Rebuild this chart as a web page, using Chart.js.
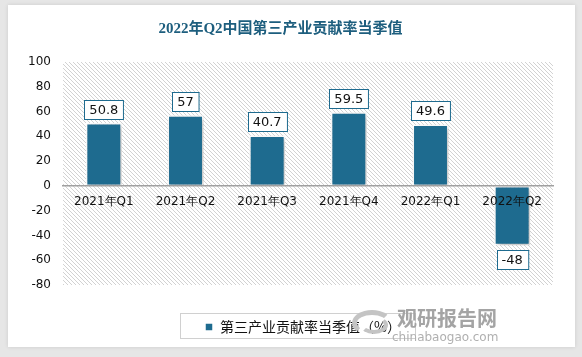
<!DOCTYPE html>
<html><head><meta charset="utf-8">
<script src="https://cdn.jsdelivr.net/npm/chart.js@4/dist/chart.umd.min.js"></script>
<style>
html,body{margin:0;padding:0;background:#e6e6e6;width:582px;height:357px;overflow:hidden}
#card{position:absolute;left:8px;top:5px;width:567px;height:342px;background:#fff;box-shadow:0 0 4px rgba(0,0,0,0.12)}
#c{position:absolute;left:0;top:0;width:567px;height:342px}
#wm{position:absolute;left:340px;top:306px;width:220px;height:40px;pointer-events:none}
#wm .a{position:absolute;left:57px;top:0px;font:bold 20px "Noto Sans CJK SC",sans-serif;color:#a4a4a4;letter-spacing:0px;line-height:24px}
#wm .b{position:absolute;left:52px;top:24px;font:12px "DejaVu Sans",sans-serif;color:#b0b0b0;line-height:14px}
#wm .r1{position:absolute;left:12px;top:4px;width:40px;height:26px;border-radius:50%;border:5px solid transparent;border-top-color:#c4c4c4;border-left-color:#c4c4c4;box-sizing:border-box}
#wm .r2{position:absolute;left:20px;top:10px;width:28px;height:18px;border-radius:50%;border:4px solid transparent;border-bottom-color:#c4c4c4;border-right-color:#c4c4c4;box-sizing:border-box}
</style></head>
<body>
<div id="card"><canvas id="c" width="567" height="342"></canvas></div>
<div id="wm"><div class="r1"></div><div class="r2"></div><span class="a">观研报告网</span><span class="b">chinabaogao.com</span></div>
<script>
const categories = ["2021年Q1","2021年Q2","2021年Q3","2021年Q4","2022年Q1","2022年Q2"];
const values = [50.8, 57, 40.7, 59.5, 49.6, -48];
const seriesName = "第三产业贡献率当季值（%）";
const chartTitle = "2022年Q2中国第三产业贡献率当季值";
const yTicks = [100, 80, 60, 40, 20, 0, -20, -40, -60, -80];

const barColor = "#1e6b8f";

function makePattern(){
  const p = document.createElement('canvas');
  p.width = 4; p.height = 4;
  const g = p.getContext('2d');
  g.fillStyle = '#ffffff'; g.fillRect(0,0,4,4);
  g.fillStyle = '#d2d2d2';
  for (let i = 0; i < 4; i++) g.fillRect(i, i, 1, 1);
  return p;
}

const bgPlugin = {
  id: 'hatch',
  afterLayout(chart){
    const lg = chart.legend;
    if (lg && lg.lineWidths) {
      const pad = lg.options.labels.padding;
      const x = (lg.left + pad + lg.right - lg.lineWidths[0]) / 2;
      const shift = 197 - x;
      lg.left += shift; lg.right += shift;
    }
  },
  beforeDraw(chart){
    const {ctx, chartArea:a} = chart;
    ctx.save();
    ctx.fillStyle = ctx.createPattern(makePattern(), 'repeat');
    ctx.fillRect(a.left, a.top, a.right-a.left, a.bottom-a.top);
    ctx.restore();
  },
  beforeDatasetsDraw(chart){
    const ctx = chart.ctx;
    ctx.save();
    ctx.shadowColor = 'rgba(0,0,0,0.28)';
    ctx.shadowBlur = 5;
    ctx.shadowOffsetX = 2;
    ctx.shadowOffsetY = 2;
  },
  afterDatasetsDraw(chart){
    chart.ctx.restore();
    const ctx = chart.ctx;
    const meta = chart.getDatasetMeta(0);
    ctx.save();
    ctx.font = '13px "DejaVu Sans", sans-serif';
    ctx.textAlign = 'center';
    ctx.textBaseline = 'middle';
    meta.data.forEach((bar, i) => {
      const v = values[i];
      const txt = String(v);
      const w = ctx.measureText(txt).width + 10;
      const h = 19;
      let cy = v >= 0 ? bar.y - 4 - h/2 : bar.y + 5 + h/2;
      const x0 = Math.round(bar.x - w/2) + 0.5, y0 = Math.round(cy - h/2) + 0.5;
      ctx.fillStyle = '#fff';
      ctx.fillRect(x0, y0, w, h);
      ctx.strokeStyle = barColor; ctx.lineWidth = 1;
      ctx.strokeRect(x0, y0, w, h);
      ctx.fillStyle = '#111';
      ctx.fillText(txt, bar.x, y0 + h/2 + 0.5);
    });
    ctx.restore();
  },
  afterDraw(chart){
    const ctx = chart.ctx;
    ctx.save();
    ctx.strokeStyle = '#d0d0d0'; ctx.lineWidth = 1;
    ctx.strokeRect(172.5, 308.5, 235, 25);
    ctx.restore();
  }
};

new Chart(document.getElementById('c'), {
  type: 'bar',
  data: {
    labels: categories,
    datasets: [{
      label: seriesName,
      data: values,
      xAxisID: 'x',
      yAxisID: 'y',
      backgroundColor: barColor,
      borderColor: '#ffffff',
      borderWidth: 1.5,
      borderSkipped: false,
      categoryPercentage: 1,
      barPercentage: 0.44
    }]
  },
  options: {
    responsive: false,
    maintainAspectRatio: false,
    animation: false,
    devicePixelRatio: 1,
    layout: { padding: { left: 0, right: 22, top: 0, bottom: 3 } },
    plugins: {
      title: {
        display: true, text: chartTitle, color: '#1d5e7e',
        font: { size: 15, weight: 'bold', family: '"Liberation Serif", "Noto Sans CJK SC", serif' },
        padding: { top: 15, bottom: 24 }
      },
      legend: {
        position: 'bottom',
        labels: {
          boxWidth: 8, boxHeight: 8, padding: 8, color: '#111',
          font: { size: 14, family: '"Noto Sans CJK SC", sans-serif' }
        }
      },
      tooltip: { enabled: false }
    },
    scales: {
      x: {
        position: { y: 0 },
        grid: { display: false, drawTicks: false },
        border: { display: true, color: '#a0a0a0', width: 1.5, z: 1 },
        ticks: { z: 1, color: '#111', padding: 9, font: { size: 12, family: '"DejaVu Sans", sans-serif' }, maxRotation: 0, autoSkip: false }
      },
      xSpacer: {
        axis: 'x',
        type: 'category',
        position: 'bottom',
        display: true,
        grid: { display: false, drawTicks: false },
        border: { display: false },
        ticks: { display: false },
        afterFit(scale){ scale.height = 27; }
      },
      y: {
        min: -80, max: 100,
        afterBuildTicks(scale){ scale.ticks = yTicks.map(v => ({ value: v })); },
        afterFit(scale){ scale.width = 55; },
        grid: { display: false, drawTicks: false },
        border: { display: false },
        ticks: { color: '#111', padding: 12, font: { size: 12, family: '"DejaVu Sans", sans-serif' } }
      }
    }
  },
  plugins: [bgPlugin]
});
</script>
</body></html>
